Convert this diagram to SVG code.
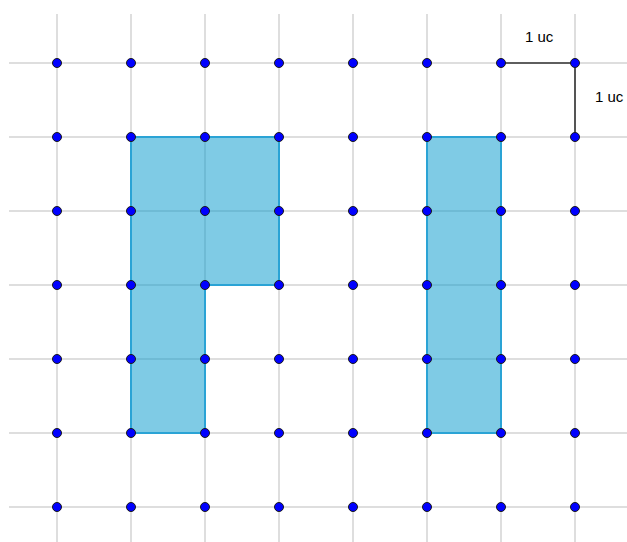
<svg xmlns="http://www.w3.org/2000/svg" width="627" height="542" viewBox="0 0 627 542">
<defs>
<style>
.g line{stroke:#d3d3d3;stroke-width:1.5}
.shape{fill:rgb(0,151,203);fill-opacity:0.5;stroke:#2aa3d5;stroke-width:2;stroke-linejoin:miter}
.seg{stroke:#333;stroke-width:1.6}
.pt{fill:#0000ff;stroke:#1a1a1a;stroke-width:1}
.lbl{font-family:"Liberation Sans",Arial,sans-serif;font-size:15px;fill:#000}
</style>
</defs>
<rect width="627" height="542" fill="#fff"/>
<g class="g" id="grid">
<line x1="57" y1="14" x2="57" y2="542"/>
<line x1="131" y1="14" x2="131" y2="542"/>
<line x1="205" y1="14" x2="205" y2="542"/>
<line x1="279" y1="14" x2="279" y2="542"/>
<line x1="353" y1="14" x2="353" y2="542"/>
<line x1="427" y1="14" x2="427" y2="542"/>
<line x1="501" y1="14" x2="501" y2="542"/>
<line x1="575" y1="14" x2="575" y2="542"/>
<line x1="9" y1="63" x2="627" y2="63"/>
<line x1="9" y1="137" x2="627" y2="137"/>
<line x1="9" y1="211" x2="627" y2="211"/>
<line x1="9" y1="285" x2="627" y2="285"/>
<line x1="9" y1="359" x2="627" y2="359"/>
<line x1="9" y1="433" x2="627" y2="433"/>
<line x1="9" y1="507" x2="627" y2="507"/>
</g>
<g id="shape1"><polygon class="shape" points="131,137 279,137 279,285 205,285 205,433 131,433"/></g>
<g id="shape2"><polygon class="shape" points="427,137 501,137 501,433 427,433"/></g>
<g id="connectors">
<line class="seg" x1="501" y1="63" x2="575" y2="63"/>
<line class="seg" x1="575" y1="63" x2="575" y2="137"/>
</g>
<g id="labels">
<text class="lbl" x="525" y="42">1 uc</text>
<text class="lbl" x="595" y="102">1 uc</text>
</g>
<g id="points">
<circle class="pt" cx="57" cy="63" r="4.5"/><circle class="pt" cx="131" cy="63" r="4.5"/><circle class="pt" cx="205" cy="63" r="4.5"/><circle class="pt" cx="279" cy="63" r="4.5"/><circle class="pt" cx="353" cy="63" r="4.5"/><circle class="pt" cx="427" cy="63" r="4.5"/><circle class="pt" cx="501" cy="63" r="4.5"/><circle class="pt" cx="575" cy="63" r="4.5"/>
<circle class="pt" cx="57" cy="137" r="4.5"/><circle class="pt" cx="131" cy="137" r="4.5"/><circle class="pt" cx="205" cy="137" r="4.5"/><circle class="pt" cx="279" cy="137" r="4.5"/><circle class="pt" cx="353" cy="137" r="4.5"/><circle class="pt" cx="427" cy="137" r="4.5"/><circle class="pt" cx="501" cy="137" r="4.5"/><circle class="pt" cx="575" cy="137" r="4.5"/>
<circle class="pt" cx="57" cy="211" r="4.5"/><circle class="pt" cx="131" cy="211" r="4.5"/><circle class="pt" cx="205" cy="211" r="4.5"/><circle class="pt" cx="279" cy="211" r="4.5"/><circle class="pt" cx="353" cy="211" r="4.5"/><circle class="pt" cx="427" cy="211" r="4.5"/><circle class="pt" cx="501" cy="211" r="4.5"/><circle class="pt" cx="575" cy="211" r="4.5"/>
<circle class="pt" cx="57" cy="285" r="4.5"/><circle class="pt" cx="131" cy="285" r="4.5"/><circle class="pt" cx="205" cy="285" r="4.5"/><circle class="pt" cx="279" cy="285" r="4.5"/><circle class="pt" cx="353" cy="285" r="4.5"/><circle class="pt" cx="427" cy="285" r="4.5"/><circle class="pt" cx="501" cy="285" r="4.5"/><circle class="pt" cx="575" cy="285" r="4.5"/>
<circle class="pt" cx="57" cy="359" r="4.5"/><circle class="pt" cx="131" cy="359" r="4.5"/><circle class="pt" cx="205" cy="359" r="4.5"/><circle class="pt" cx="279" cy="359" r="4.5"/><circle class="pt" cx="353" cy="359" r="4.5"/><circle class="pt" cx="427" cy="359" r="4.5"/><circle class="pt" cx="501" cy="359" r="4.5"/><circle class="pt" cx="575" cy="359" r="4.5"/>
<circle class="pt" cx="57" cy="433" r="4.5"/><circle class="pt" cx="131" cy="433" r="4.5"/><circle class="pt" cx="205" cy="433" r="4.5"/><circle class="pt" cx="279" cy="433" r="4.5"/><circle class="pt" cx="353" cy="433" r="4.5"/><circle class="pt" cx="427" cy="433" r="4.5"/><circle class="pt" cx="501" cy="433" r="4.5"/><circle class="pt" cx="575" cy="433" r="4.5"/>
<circle class="pt" cx="57" cy="507" r="4.5"/><circle class="pt" cx="131" cy="507" r="4.5"/><circle class="pt" cx="205" cy="507" r="4.5"/><circle class="pt" cx="279" cy="507" r="4.5"/><circle class="pt" cx="353" cy="507" r="4.5"/><circle class="pt" cx="427" cy="507" r="4.5"/><circle class="pt" cx="501" cy="507" r="4.5"/><circle class="pt" cx="575" cy="507" r="4.5"/>
</g>
</svg>
